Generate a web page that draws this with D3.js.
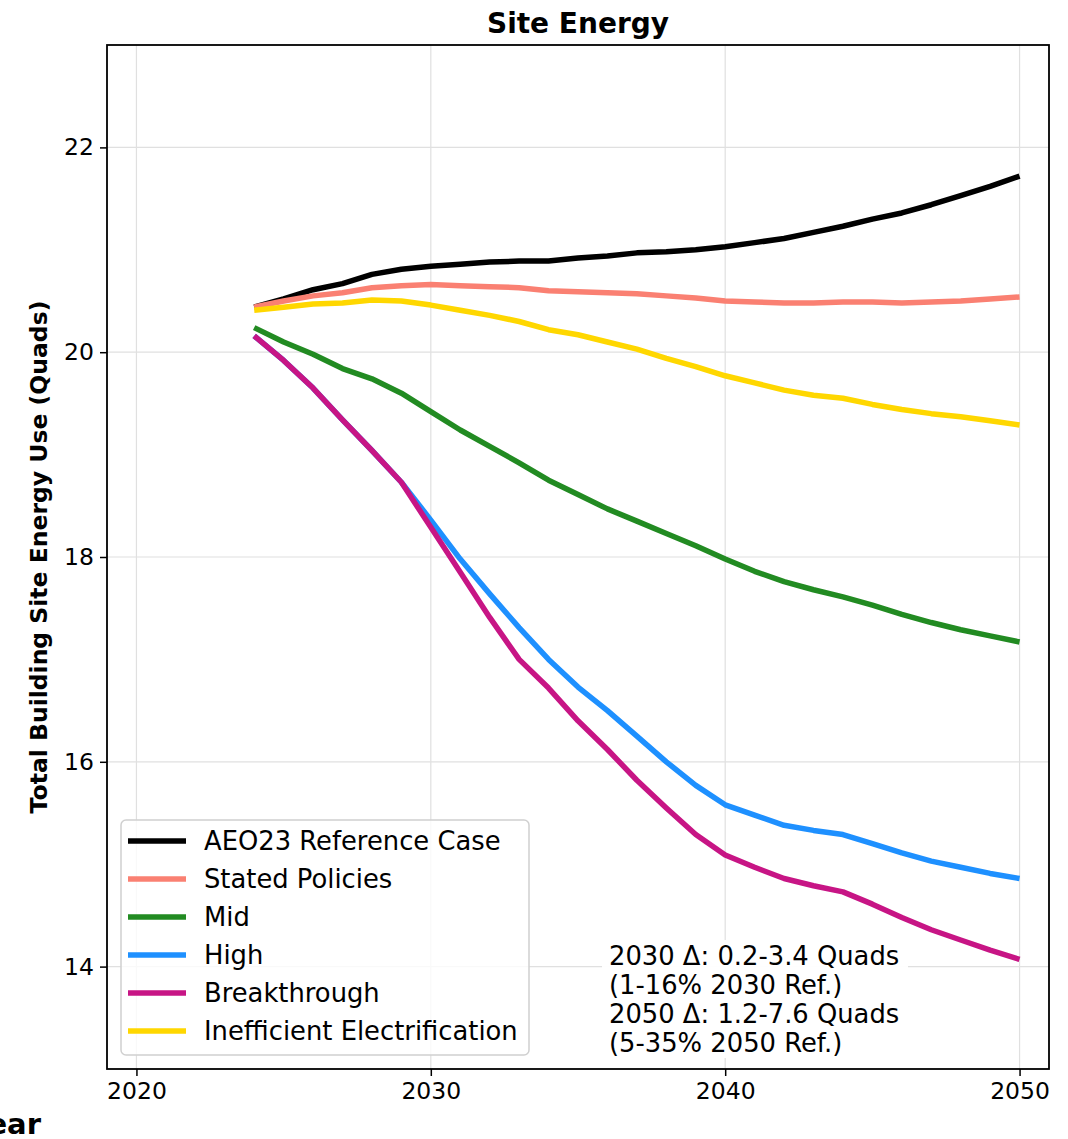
<!DOCTYPE html>
<html>
<head>
<script src="https://d3js.org/d3.v7.min.js"></script>
<style>
  body { margin: 0; background: #fff; }
  text { font-family: "DejaVu Sans", sans-serif; }
</style>
</head>
<body>
<svg id="chart" width="1068" height="1139"></svg>
<script>
// years shown on the x axis
var years = d3.range(2024, 2051);

// series values (Quads)
var aeo23 = [20.44, 20.52, 20.61, 20.67, 20.76, 20.81, 20.84, 20.86, 20.88, 20.89, 20.89, 20.92, 20.94, 20.97, 20.98, 21.00, 21.03, 21.07, 21.11, 21.17, 21.23, 21.30, 21.36, 21.44, 21.53, 21.62, 21.72];
var statedPolicies = [20.44, 20.50, 20.55, 20.58, 20.63, 20.65, 20.66, 20.65, 20.64, 20.63, 20.60, 20.59, 20.58, 20.57, 20.55, 20.53, 20.50, 20.49, 20.48, 20.48, 20.49, 20.49, 20.48, 20.49, 20.50, 20.52, 20.54];
var mid = [20.24, 20.10, 19.98, 19.84, 19.74, 19.60, 19.42, 19.24, 19.08, 18.92, 18.75, 18.61, 18.47, 18.35, 18.23, 18.11, 17.98, 17.86, 17.76, 17.68, 17.61, 17.53, 17.44, 17.36, 17.29, 17.23, 17.17];
var high = [20.16, 19.92, 19.65, 19.34, 19.04, 18.73, 18.36, 17.98, 17.64, 17.31, 17.00, 16.73, 16.50, 16.25, 16.00, 15.77, 15.58, 15.48, 15.38, 15.33, 15.29, 15.20, 15.11, 15.03, 14.97, 14.91, 14.86];
var breakthrough = [20.16, 19.92, 19.65, 19.34, 19.04, 18.73, 18.29, 17.85, 17.41, 17.00, 16.72, 16.40, 16.12, 15.82, 15.55, 15.29, 15.09, 14.97, 14.86, 14.79, 14.73, 14.61, 14.48, 14.36, 14.26, 14.16, 14.07];
var inefficientElec = [20.41, 20.44, 20.47, 20.48, 20.51, 20.50, 20.46, 20.41, 20.36, 20.30, 20.22, 20.17, 20.10, 20.03, 19.94, 19.86, 19.77, 19.70, 19.63, 19.58, 19.55, 19.49, 19.44, 19.40, 19.37, 19.33, 19.29];

var seriesNames = ["AEO23 Reference Case", "Stated Policies", "Mid", "High", "Breakthrough", "Inefficient Electrification"];
var seriesColors = ["#000000", "#fa8072", "#228b22", "#1e90ff", "#c71585", "#ffd700"];
var seriesValues = [aeo23, statedPolicies, mid, high, breakthrough, inefficientElec];

var xTicks = [2020, 2030, 2040, 2050];
var yTicks = [14, 16, 18, 20, 22];

var noteLines = ["2030 \u0394: 0.2-3.4 Quads", "(1-16% 2030 Ref.)", "2050 \u0394: 1.2-7.6 Quads", "(5-35% 2050 Ref.)"];

var svg = d3.select("#chart");
var margin = {left: 107, top: 45, right: 1049, bottom: 1069};

var x = d3.scaleLinear().domain([2019, 2051]).range([margin.left, margin.right]);
var y = d3.scaleLinear().domain([13, 23]).range([margin.bottom, margin.top]);

// grid
var grid = svg.append("g");
grid.selectAll("line.vx").data(xTicks).enter().append("line")
  .attr("x1", d => x(d)).attr("x2", d => x(d))
  .attr("y1", margin.top).attr("y2", margin.bottom)
  .attr("stroke", "#e0e0e0").attr("stroke-width", 1.2);
grid.selectAll("line.hy").data(yTicks).enter().append("line")
  .attr("x1", margin.left).attr("x2", margin.right)
  .attr("y1", d => y(d)).attr("y2", d => y(d))
  .attr("stroke", "#e0e0e0").attr("stroke-width", 1.2);

// lines
var line = d3.line().x((d, i) => x(years[i])).y(d => y(d));
svg.append("g").selectAll("path").data(seriesValues).enter().append("path")
  .attr("d", d => line(d))
  .attr("fill", "none")
  .attr("stroke", (d, i) => seriesColors[i])
  .attr("stroke-width", 5.5)
  .attr("stroke-linejoin", "round");

// axes
var xAxis = d3.axisBottom(x).tickValues(xTicks).tickFormat(d3.format("d")).tickSize(7).tickPadding(6);
var gx = svg.append("g").attr("transform", "translate(0," + margin.bottom + ")").call(xAxis);
var yAxis = d3.axisLeft(y).tickValues(yTicks).tickFormat(d3.format("d")).tickSize(7).tickPadding(6);
var gy = svg.append("g").attr("transform", "translate(" + margin.left + ",0)").call(yAxis);
[gx, gy].forEach(function(g) {
  g.select(".domain").remove();
  g.selectAll(".tick line").attr("stroke", "#000").attr("stroke-width", 1.5);
  g.selectAll(".tick text").attr("fill", "#000").style("font-size", "23.5px").style("font-family", "DejaVu Sans");
});

// frame
svg.append("rect")
  .attr("x", margin.left).attr("y", margin.top)
  .attr("width", margin.right - margin.left).attr("height", margin.bottom - margin.top)
  .attr("fill", "none").attr("stroke", "#000").attr("stroke-width", 1.8);

// title & labels
svg.append("text").attr("x", (margin.left + margin.right) / 2).attr("y", 33)
  .attr("text-anchor", "middle").style("font-size", "28px").style("font-weight", "bold")
  .text("Site Energy");
svg.append("text").attr("transform", "translate(47," + ((margin.top + margin.bottom) / 2) + ") rotate(-90)")
  .attr("text-anchor", "middle").style("font-size", "23.5px").style("font-weight", "bold")
  .text("Total Building Site Energy Use (Quads)");
svg.append("text").attr("x", 41).attr("y", 1134)
  .attr("text-anchor", "end").style("font-size", "29px").style("font-weight", "bold")
  .text("Year");

// annotation box
var note = svg.append("g");
note.append("rect").attr("x", 602).attr("y", 940).attr("width", 306).attr("height", 118)
  .attr("fill", "#fff").attr("opacity", 0.95);
note.selectAll("text").data(noteLines).enter().append("text")
  .attr("x", 609).attr("y", (d, i) => 965 + i * 29)
  .style("font-size", "25.8px").text(d => d);

// legend
var legend = svg.append("g");
legend.append("rect").attr("x", 121).attr("y", 820).attr("width", 408).attr("height", 235)
  .attr("rx", 5).attr("fill", "#fff").attr("fill-opacity", 0.8)
  .attr("stroke", "#d0d0d0").attr("stroke-width", 1.5);
var items = legend.selectAll("g.item").data(seriesNames).enter().append("g")
  .attr("transform", (d, i) => "translate(0," + (841 + i * 38) + ")");
items.append("line").attr("x1", 128).attr("x2", 186).attr("y1", 0).attr("y2", 0)
  .attr("stroke", (d, i) => seriesColors[i]).attr("stroke-width", 5.5);
items.append("text").attr("x", 204).attr("y", 9).style("font-size", "25.8px").text(d => d);
</script>
</body>
</html>
